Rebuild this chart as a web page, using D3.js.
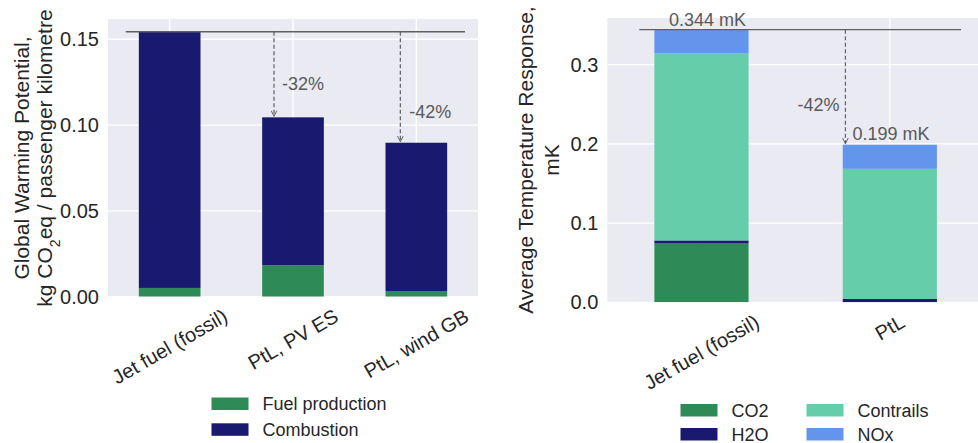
<!DOCTYPE html>
<html><head><meta charset="utf-8">
<script src="https://cdn.jsdelivr.net/npm/d3@7"></script>
<style>
body{margin:0;background:#fff;}
svg{display:block;font-family:"Liberation Sans",Arial,sans-serif;}
</style></head>
<body>
<svg id="chart" width="978" height="443"></svg>
<script>
// ---------- data ----------
const gwpCategories = ["Jet fuel (fossil)", "PtL, PV ES", "PtL, wind GB"];
const gwpFuelProduction = [0.0051, 0.0183, 0.0033];
const gwpCombustion = [0.1493, 0.0862, 0.0864];
const gwpTicks = [0.00, 0.05, 0.10, 0.15];
const gwpReductions = ["", "-32%", "-42%"];
const gwpSeriesNames = ["Fuel production", "Combustion"];

const atrCategories = ["Jet fuel (fossil)", "PtL"];
const atrCO2 = [0.0743, 0.0];
const atrH2O = [0.0038, 0.0042];
const atrContrails = [0.2366, 0.1644];
const atrNOx = [0.0296, 0.0304];
const atrTicks = [0.0, 0.1, 0.2, 0.3];
const atrTotalLabels = ["0.344 mK", "0.199 mK"];
const atrReductions = ["", "-42%"];
const atrSeriesNames = ["CO2", "H2O", "Contrails", "NOx"];

// ---------- style ----------
const C = {
  green: "#2e8b57", navy: "#191970", aqua: "#66cdaa", blue: "#6495ed",
  bg: "#eaeaf2", grid: "#ffffff", text: "#262626", ann: "#595959", line: "#5f5f5f"
};
const svg = d3.select("#chart");
const defs = svg.append("defs");
defs.append("marker").attr("id", "arr").attr("viewBox", "0 0 10 10")
  .attr("refX", 9).attr("refY", 5).attr("markerWidth", 7).attr("markerHeight", 7)
  .attr("orient", "auto").attr("markerUnits", "userSpaceOnUse")
  .append("path").attr("d", "M1,1 L9,5 L1,9").attr("fill", "none")
  .attr("stroke", C.line).attr("stroke-width", 1.4);

function panel(opt) {
  const g = svg.append("g");
  const x = d3.scaleBand().domain(opt.categories).range([opt.x0, opt.x1]).paddingInner(0.5).paddingOuter(0.25);
  const y = d3.scaleLinear().domain([0, opt.ymax]).range([opt.y1, opt.y0]);
  const clipId = "clip" + opt.id;
  defs.append("clipPath").attr("id", clipId).append("rect")
    .attr("x", opt.x0).attr("y", opt.y0).attr("width", opt.x1 - opt.x0).attr("height", opt.y1 - opt.y0);
  g.append("rect").attr("x", opt.x0).attr("y", opt.y0).attr("width", opt.x1 - opt.x0)
    .attr("height", opt.y1 - opt.y0).attr("fill", C.bg);
  // grid
  g.selectAll(".hg").data(opt.ticks).join("line")
    .attr("x1", opt.x0).attr("x2", opt.x1).attr("y1", d => y(d)).attr("y2", d => y(d))
    .attr("stroke", C.grid).attr("stroke-width", 1.3);
  g.selectAll(".vg").data(opt.categories).join("line")
    .attr("x1", d => x(d) + x.bandwidth() / 2).attr("x2", d => x(d) + x.bandwidth() / 2)
    .attr("y1", opt.y0).attr("y2", opt.y1).attr("stroke", C.grid).attr("stroke-width", 1.3);
  // stacked bars
  const rows = opt.categories.map((c, i) => {
    const r = { cat: c };
    opt.series.forEach(s => r[s.name] = s.values[i]);
    return r;
  });
  const stack = d3.stack().keys(opt.series.map(s => s.name))(rows);
  const bars = g.append("g").attr("clip-path", `url(#${clipId})`);
  stack.forEach((layer, k) => {
    bars.selectAll(null).data(layer).join("rect")
      .attr("x", d => x(d.data.cat)).attr("width", x.bandwidth())
      .attr("y", d => y(d[1])).attr("height", d => Math.max(0, y(d[0]) - y(d[1])))
      .attr("fill", opt.series[k].color);
  });
  // y axis
  const ya = g.append("g").attr("transform", `translate(${opt.x0},0)`)
    .call(d3.axisLeft(y).tickValues(opt.ticks).tickFormat(d3.format(opt.fmt)).tickSize(0).tickPadding(9));
  ya.select(".domain").remove();
  ya.selectAll("text").attr("fill", C.text).style("font-size", "20px").style("font-family", "Liberation Sans, Arial, sans-serif");
  // y label
  const lab = g.append("text").attr("transform", `translate(${opt.labX},${opt.labY}) rotate(-90)`)
    .attr("text-anchor", "middle").attr("fill", C.text).style("font-size", "21px");
  opt.label.forEach((ln, i) => {
    const t = lab.append("tspan").attr("x", 0).attr("dy", i === 0 ? 0 : opt.labLH);
    if (Array.isArray(ln)) {
      ln.forEach(part => {
        const s = t.append("tspan").text(part.t);
        if (part.sub) s.attr("baseline-shift", "sub").style("font-size", "14px");
      });
    } else t.text(ln);
  });
  // x tick labels rotated
  opt.categories.forEach(c => {
    const t = g.append("text").text(c).attr("fill", C.text).style("font-size", "20px")
      .attr("text-anchor", "middle").attr("dominant-baseline", "central");
    const L = t.node().getComputedTextLength();
    const h = 20 * 1.1;
    const cx = x(c) + x.bandwidth() / 2;
    const cy = opt.y1 + 8 + L * 0.25 + h * 0.433;
    t.attr("transform", `translate(${cx},${cy}) rotate(-30)`);
  });
  return { g, x, y };
}

// ---------- left panel ----------
const L = panel({
  id: "L", x0: 108, x1: 478, y0: 19, y1: 296.7, ymax: 0.1618,
  categories: gwpCategories, ticks: gwpTicks, fmt: ".2f",
  series: [
    { name: gwpSeriesNames[0], values: gwpFuelProduction, color: C.green },
    { name: gwpSeriesNames[1], values: gwpCombustion, color: C.navy }
  ],
  label: ["Global Warming Potential,", [{ t: "kg CO" }, { t: "2", sub: true }, { t: "eq / passenger kilometre" }]],
  labX: 28.5, labY: 158, labLH: 23.5
});
{
  const tot = gwpCategories.map((c, i) => gwpFuelProduction[i] + gwpCombustion[i]);
  const yT = L.y(tot[0]);
  L.g.append("line").attr("x1", 125.7).attr("x2", 465).attr("y1", yT).attr("y2", yT)
    .attr("stroke", C.line).attr("stroke-width", 1.4);
  const offs = [0, -19, -16];
  const tdx = [0, 8, 9];
  const tdy = [0, 52, 80];
  gwpCategories.forEach((c, i) => {
    if (!gwpReductions[i]) return;
    const ax = L.x(c) + L.x.bandwidth() / 2 + offs[i];
    L.g.append("line").attr("x1", ax).attr("x2", ax).attr("y1", yT).attr("y2", L.y(tot[i]) - 1)
      .attr("stroke", C.line).attr("stroke-width", 1.2).attr("stroke-dasharray", "4,2.5")
      .attr("marker-end", "url(#arr)");
    L.g.append("text").text(gwpReductions[i]).attr("x", ax + tdx[i]).attr("y", yT + tdy[i])
      .attr("dominant-baseline", "central").attr("fill", C.ann).style("font-size", "18px");
  });
}

// ---------- right panel ----------
const R = panel({
  id: "R", x0: 607.3, x1: 984, y0: 18, y1: 302.3, ymax: 0.359,
  categories: atrCategories, ticks: atrTicks, fmt: ".1f",
  series: [
    { name: atrSeriesNames[0], values: atrCO2, color: C.green },
    { name: atrSeriesNames[1], values: atrH2O, color: C.navy },
    { name: atrSeriesNames[2], values: atrContrails, color: C.aqua },
    { name: atrSeriesNames[3], values: atrNOx, color: C.blue }
  ],
  label: ["Average Temperature Response,", "mK"],
  labX: 533, labY: 160, labLH: 26
});
{
  const tot = atrCategories.map((c, i) => atrCO2[i] + atrH2O[i] + atrContrails[i] + atrNOx[i]);
  const yT = R.y(tot[0]);
  R.g.append("line").attr("x1", 639.3).attr("x2", 961).attr("y1", yT).attr("y2", yT)
    .attr("stroke", C.line).attr("stroke-width", 1.4);
  R.g.append("text").text(atrTotalLabels[0])
    .attr("x", R.x(atrCategories[0]) + R.x.bandwidth() / 2 + 6).attr("y", yT - 4)
    .attr("text-anchor", "middle").attr("fill", C.ann).style("font-size", "18px");
  const ax = R.x(atrCategories[1]) + R.x.bandwidth() / 2 - 44.4;
  R.g.append("line").attr("x1", ax).attr("x2", ax).attr("y1", yT).attr("y2", R.y(tot[1]) - 1)
    .attr("stroke", C.line).attr("stroke-width", 1.2).attr("stroke-dasharray", "4,2.5")
    .attr("marker-end", "url(#arr)");
  R.g.append("text").text(atrReductions[1]).attr("x", ax - 6).attr("y", yT + 75)
    .attr("text-anchor", "end").attr("dominant-baseline", "central").attr("fill", C.ann).style("font-size", "18px");
  R.g.append("text").text(atrTotalLabels[1]).attr("x", ax + 7).attr("y", R.y(tot[1]) - 11)
    .attr("dominant-baseline", "central").attr("fill", C.ann).style("font-size", "18px");
}

// ---------- legends ----------
function legend(items, x0, y0, colW, rowH, nCols) {
  const g = svg.append("g");
  items.forEach((it, i) => {
    const col = Math.floor(i / Math.ceil(items.length / nCols));
    const row = i % Math.ceil(items.length / nCols);
    const px = x0 + col * colW, py = y0 + row * rowH;
    g.append("rect").attr("x", px).attr("y", py).attr("width", 37).attr("height", 12.5).attr("fill", it.color);
    g.append("text").text(it.name).attr("x", px + 51).attr("y", py + 6.5)
      .attr("dominant-baseline", "central").attr("fill", C.text).style("font-size", "18px");
  });
}
legend([{ name: gwpSeriesNames[0], color: C.green }, { name: gwpSeriesNames[1], color: C.navy }], 211.5, 397.5, 0, 25.8, 1);
legend([
  { name: atrSeriesNames[0], color: C.green }, { name: atrSeriesNames[1], color: C.navy },
  { name: atrSeriesNames[2], color: C.aqua }, { name: atrSeriesNames[3], color: C.blue }
], 680.5, 404, 126, 24, 2);
</script>
</body></html>
